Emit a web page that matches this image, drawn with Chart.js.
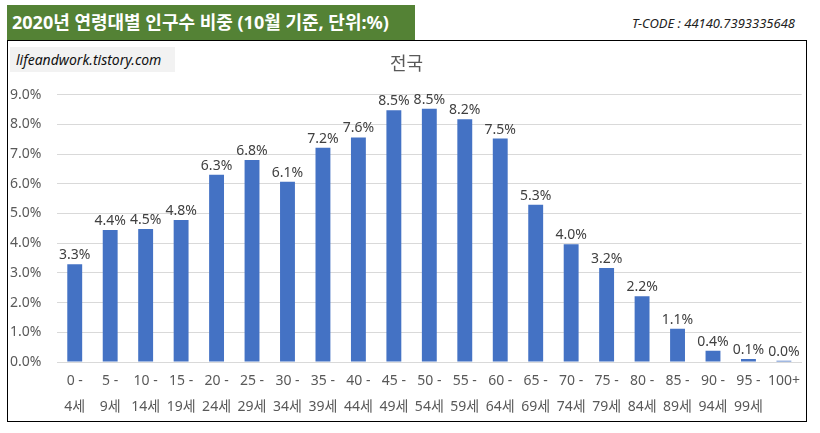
<!DOCTYPE html>
<html><head><meta charset="utf-8">
<script src="https://cdn.jsdelivr.net/npm/chart.js@4/dist/chart.umd.min.js"></script>
<style>
html,body{margin:0;padding:0;background:#fff;width:820px;height:433px;overflow:hidden;font-family:'Noto Sans','Noto Sans CJK KR',sans-serif;}
#bar{position:absolute;left:7px;top:5px;width:408px;height:35px;background:#548235;color:#fff;font-weight:bold;font-size:18px;line-height:35px;padding-left:5px;box-sizing:border-box;white-space:nowrap;}
#tcode{position:absolute;right:25px;top:14px;font-size:13px;font-style:italic;color:#222;}
#box{position:absolute;left:7px;top:40px;width:800px;height:382px;border:1.5px solid #000;box-sizing:border-box;}
#wm{position:absolute;left:10px;top:47px;width:165px;height:25px;background:#f2f2f2;font-size:14px;font-style:italic;line-height:25px;padding-left:6px;box-sizing:border-box;color:#111;z-index:2;}
#wrap{position:absolute;left:8px;top:41px;width:798px;height:380px;}
</style></head><body>
<div id="bar">2020년 연령대별 인구수 비중 (10월 기준, 단위:%)</div>
<div id="tcode">T-CODE : 44140.7393335648</div>
<div id="box"></div>
<div id="wm">lifeandwork.tistory.com</div>
<div id="wrap"><canvas id="c"></canvas></div>
<script>
const categories = [['0 -','4세'],['5 -','9세'],['10 -','14세'],['15 -','19세'],['20 -','24세'],['25 -','29세'],['30 -','34세'],['35 -','39세'],['40 -','44세'],['45 -','49세'],['50 -','54세'],['55 -','59세'],['60 -','64세'],['65 -','69세'],['70 -','74세'],['75 -','79세'],['80 -','84세'],['85 -','89세'],['90 -','94세'],['95 -','99세'],['100+','']];
const shares = [3.29,4.44,4.48,4.78,6.30,6.80,6.07,7.21,7.56,8.47,8.52,8.17,7.52,5.29,3.96,3.16,2.21,1.12,0.38,0.10,0.04];
const yTicks = [0,1,2,3,4,5,6,7,8,9];
const chartTitle = '전국';

const FONT = "'Noto Sans','Noto Sans CJK KR',sans-serif";
const labelPlugin = {
  id:'barLabels',
  afterDatasetsDraw(chart){
    const ctx = chart.ctx;
    const meta = chart.getDatasetMeta(0);
    ctx.save();
    ctx.font = '14px ' + FONT;
    ctx.fillStyle = '#404040';
    ctx.textAlign = 'center';
    ctx.textBaseline = 'bottom';
    meta.data.forEach((el,i)=>{
      ctx.fillText(shares[i].toFixed(1)+'%', el.x, el.y - 2);
    });
    ctx.restore();
  }
};

new Chart(document.getElementById('c'), {
  type:'bar',
  data:{labels:categories, datasets:[{data:shares, backgroundColor:'#4472C4', categoryPercentage:1, barPercentage:0.42}]},
  plugins:[labelPlugin],
  options:{
    responsive:true, maintainAspectRatio:false, animation:false,
    layout:{padding:{left:2,right:3,top:0,bottom:0}},
    plugins:{
      legend:{display:false}, tooltip:{enabled:false},
      title:{display:true, text:chartTitle, color:'#595959', font:{family:FONT,size:18,weight:'normal'}, padding:{top:13,bottom:19}}
    },
    scales:{
      x:{
        grid:{display:false, drawTicks:false},
        border:{display:true,color:'#d9d9d9'},
        ticks:{color:'#595959', font:{family:FONT,size:14,lineHeight:1.85}, padding:6, maxRotation:0, autoSkip:false},
        afterFit(s){ s.height = 59; }
      },
      y:{
        min:0, max:9,
        afterBuildTicks(s){ s.ticks = yTicks.map(v=>({value:v})); },
        grid:{color:'#d9d9d9', drawTicks:false},
        border:{display:false},
        ticks:{color:'#595959', font:{family:FONT,size:14}, crossAlign:'far', padding:4, callback:v=>Number(v).toFixed(1)+'%'},
        afterFit(s){ s.width = 47; }
      }
    }
  }
});
</script>
</body></html>
